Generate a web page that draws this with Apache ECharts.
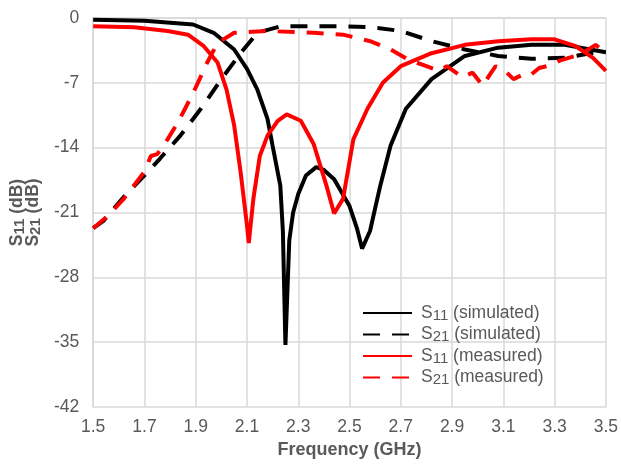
<!DOCTYPE html>
<html>
<head>
<meta charset="utf-8">
<script src="https://cdn.jsdelivr.net/npm/echarts@6/dist/echarts.min.js"></script>
<style>
  html, body { margin: 0; padding: 0; background: #fff; }
  #chart { width: 621px; height: 464px; }
</style>
</head>
<body>
<div id="chart"></div>
<script>
// frequencies (GHz) and values (dB)
var s11SimFreq = [1.5, 1.7, 1.89, 1.97, 2.05, 2.10, 2.14, 2.18, 2.20, 2.23, 2.24, 2.25, 2.265, 2.28, 2.30, 2.33, 2.37, 2.40, 2.44, 2.50, 2.53, 2.549, 2.58, 2.62, 2.66, 2.72, 2.82, 2.95, 3.08, 3.21, 3.34, 3.44, 3.5];
var s11Sim = [-0.2, -0.3, -0.7, -1.6, -3.4, -5.5, -7.7, -10.9, -13.8, -18.1, -23, -35.3, -24, -21, -19, -17, -16.1, -16.4, -17.4, -20.3, -22.8, -24.9, -23, -18.1, -13.8, -9.8, -6.6, -4.1, -3.2, -2.9, -2.9, -3.4, -3.7];

var s21SimFreq = [1.5, 1.54, 1.62, 1.70, 1.76, 1.84, 1.92, 2.0, 2.075, 2.14, 2.23, 2.37, 2.475, 2.59, 2.70, 2.82, 2.95, 3.08, 3.21, 3.34, 3.44, 3.5];
var s21Sim = [-22.7, -21.9, -19.3, -17.0, -15.2, -12.7, -9.8, -6.6, -3.8, -1.6, -0.9, -0.9, -0.9, -1.0, -1.4, -2.5, -3.4, -4.1, -4.4, -4.3, -3.8, -3.7];

var s11MeasFreq = [1.5, 1.66, 1.79, 1.87, 1.93, 1.985, 2.02, 2.05, 2.075, 2.10, 2.107, 2.125, 2.15, 2.18, 2.22, 2.255, 2.31, 2.36, 2.41, 2.44, 2.475, 2.515, 2.57, 2.63, 2.70, 2.82, 2.95, 3.08, 3.21, 3.30, 3.38, 3.45, 3.5];
var s11Meas = [-0.9, -1.0, -1.4, -1.8, -3.0, -4.8, -7.7, -11.6, -16.6, -22.4, -24.3, -19.5, -14.9, -12.7, -11.1, -10.4, -11.1, -13.6, -18.1, -21.1, -19.5, -13.1, -9.8, -7.0, -5.2, -3.8, -2.9, -2.5, -2.3, -2.3, -3.0, -4.3, -5.7];

var s21MeasFreq = [1.5, 1.56, 1.62, 1.70, 1.725, 1.75, 1.79, 1.83, 1.89, 1.945, 1.985, 2.05, 2.18, 2.36, 2.475, 2.58, 2.66, 2.73, 2.80, 2.85, 2.88, 2.94, 2.98, 3.02, 3.05, 3.07, 3.11, 3.14, 3.17, 3.20, 3.24, 3.27, 3.32, 3.38, 3.42, 3.46, 3.5];
var s21Meas = [-22.7, -21.3, -19.5, -16.6, -14.9, -14.7, -13.1, -11.3, -8.1, -4.8, -2.7, -1.6, -1.4, -1.6, -1.8, -2.5, -3.4, -4.5, -5.2, -5.7, -5.2, -6.4, -5.9, -7.3, -6.0, -5.2, -5.8, -6.6, -6.2, -6.3, -5.4, -5.2, -4.6, -4.1, -3.6, -2.9, -3.7];

var legendNames = ['S11 (simulated)', 'S21 (simulated)', 'S11 (measured)', 'S21 (measured)'];

function pairs(xs, ys) {
  return xs.map(function (x, i) { return [x, ys[i]]; });
}

var gray = '#595959';
var font = '"Liberation Sans", Arial, sans-serif';

function mkSeries(name, xs, ys, color, dashed) {
  return {
    name: name,
    type: 'line',
    data: pairs(xs, ys),
    symbol: 'none',
    lineStyle: { color: color, width: 4, type: dashed ? [17, 12] : 'solid' },
    itemStyle: { color: color }
  };
}

var chart = echarts.init(document.getElementById('chart'));
chart.setOption({
  animation: false,
  textStyle: { fontFamily: font },
  grid: { left: 92, right: 14, top: 18, bottom: 55 },
  legend: {
    orient: 'vertical',
    left: 357,
    top: 298,
    itemWidth: 49,
    itemHeight: 12,
    itemGap: 1.5,
    itemStyle: { opacity: 0 },
    data: legendNames,
    formatter: function (n) {
      return '{a|S}{s|' + n.slice(1, 3) + '}{a|' + n.slice(3) + '}';
    },
    textStyle: {
      color: gray,
      padding: [0, 0, 0, 4],
      rich: {
        a: { fontSize: 17.5, color: gray, fontFamily: font, lineHeight: 22 },
        s: { fontSize: 15, color: gray, fontFamily: font, lineHeight: 22, padding: [5, 0, 0, 0] }
      }
    }
  },
  xAxis: {
    type: 'value',
    min: 1.5, max: 3.5, interval: 0.2,
    name: 'Frequency (GHz)',
    nameLocation: 'middle',
    nameGap: 34,
    nameTextStyle: { color: gray, fontSize: 18, fontWeight: 'bold' },
    axisLine: { lineStyle: { color: '#d9d9d9', width: 1.5 } },
    axisTick: { show: false },
    axisLabel: { color: gray, fontSize: 17.5, margin: 11, formatter: function (v) { return v.toFixed(1); } },
    splitLine: { show: true, lineStyle: { color: '#d9d9d9', width: 1.5 } }
  },
  yAxis: {
    type: 'value',
    min: -42, max: 0, interval: 7,
    name: '{b|S}{s|11}{b| (dB)}\n{b|S}{s|21}{b| (dB)}',
    nameLocation: 'middle',
    nameRotate: 90,
    nameGap: 46,
    nameTextStyle: {
      color: gray,
      rich: {
        b: { fontSize: 17.5, fontWeight: 'bold', color: gray, fontFamily: font, lineHeight: 16 },
        s: { fontSize: 15, fontWeight: 'bold', color: gray, fontFamily: font, lineHeight: 16, padding: [4, 0, 0, 0] }
      }
    },
    axisLine: { show: true, lineStyle: { color: '#d9d9d9', width: 1.5 } },
    axisTick: { show: false },
    axisLabel: { color: gray, fontSize: 17.5, margin: 14 },
    splitLine: { show: true, lineStyle: { color: '#d9d9d9', width: 1.5 } }
  },
  series: [
    mkSeries(legendNames[0], s11SimFreq, s11Sim, '#000000', false),
    mkSeries(legendNames[1], s21SimFreq, s21Sim, '#000000', true),
    mkSeries(legendNames[2], s11MeasFreq, s11Meas, '#ff0000', false),
    mkSeries(legendNames[3], s21MeasFreq, s21Meas, '#ff0000', true)
  ]
});
</script>
</body>
</html>
